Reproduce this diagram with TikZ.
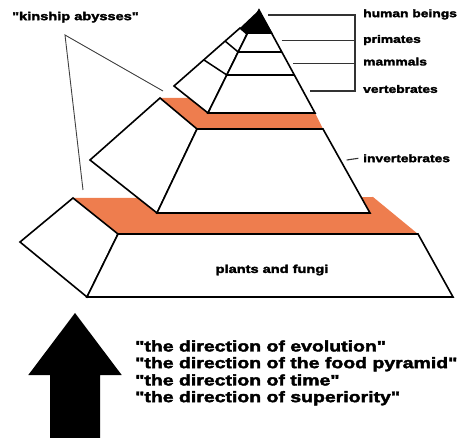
\documentclass[tikz,border=0pt]{standalone}
\usepackage{fontspec}
\newfontfamily\lblfont{Liberation Sans}[FakeStretch=1.28,BoldFeatures={FakeBold=2.6}]
\definecolor{abyss}{RGB}{238,125,78}
\begin{document}
\begin{tikzpicture}[x=1pt,y=-1pt,
  face/.style={fill=white,draw=black,line width=1.6pt,line join=miter},
  band/.style={fill=abyss},
  thinline/.style={draw=black!75,line width=0.9pt},
  bracket/.style={draw=black!80,line width=1.1pt},
  lbl/.style={font=\lblfont\bfseries\fontsize{10.8}{12}\selectfont,inner sep=0pt,anchor=mid west},
  biglbl/.style={font=\lblfont\bfseries\fontsize{11.4}{13}\selectfont,inner sep=0pt},
  dirlbl/.style={font=\lblfont\bfseries\fontsize{15.2}{17}\selectfont,inner sep=0pt,anchor=mid west}]
\useasboundingbox (0,0) rectangle (466,438);
% --- key points
% bottom tier
\coordinate (bA) at (73,198);
\coordinate (bL) at (20,242);
\coordinate (bBL) at (87,297);
\coordinate (bTL) at (118,234);
\coordinate (bTR) at (418,234);
\coordinate (bBR) at (453,297);
\coordinate (bOR) at (373,197);
% middle tier
\coordinate (mA) at (160,98);
\coordinate (mL) at (90,160);
\coordinate (mBL) at (157,213);
\coordinate (mTL) at (197,129);
\coordinate (mTR) at (323,129);
\coordinate (mBR) at (370,213);
% top pyramid
\coordinate (apex) at (259,10);
\coordinate (tS) at (240,28);
\coordinate (tL) at (174,86);
\coordinate (tBL) at (208,113);
\coordinate (tBR) at (315,113);
\coordinate (tC) at (247,34);
\coordinate (tCR) at (273,34);
% bottom orange band
\fill[band] (bA) -- (bOR) -- (bTR) -- (bTL) -- cycle;
\draw[face] (bA) -- (bL) -- (bBL) -- (bTL) -- cycle;
\draw[face] (bTL) -- (bTR) -- (bBR) -- (bBL) -- cycle;
% middle orange band
\fill[band] (mA) -- (200,98) -- (220,113) -- (tBR) -- (mTR) -- (mTL) -- cycle;
\draw[face] (mA) -- (mL) -- (mBL) -- (mTL) -- cycle;
\draw[face] (mTL) -- (mTR) -- (mBR) -- (mBL) -- cycle;
% top pyramid
\draw[face] (tS) -- (tL) -- (tBL) -- (tC) -- cycle;
\draw[face] (apex) -- (tBR) -- (tBL) -- cycle;
\fill[black] (apex) -- (tS) -- (tC) -- (tCR) -- cycle;
\draw[black,line width=1.5pt] (238.2,52) -- (281.8,52);
\draw[black,line width=1.5pt] (226.8,75) -- (294.3,75);
\draw[black,line width=1.5pt] (225,41) -- (238.2,52);
\draw[black,line width=1.5pt] (204,60) -- (226.8,75);
% kinship abysses
\node[biglbl,anchor=mid west] (kin) at (12,18) {"kinship abysses"};
\coordinate (kfork) at (65,35);
\coordinate (kend1) at (163,91);
\coordinate (kend2) at (83,190);
\draw[thinline] (kend1) -- (kfork) -- (kend2);
% right bracket and labels
\coordinate (brTop) at (355,15);
\coordinate (brBot) at (355,91);
\draw[bracket] (268,15) -- (brTop) -- (brBot) -- (310,91);
\draw[bracket] (281.7,40.7) -- (355,40.7);
\draw[bracket] (293,63.3) -- (355,63.3);
\node[lbl] (human) at (363,15) {human beings};
\node[lbl] (prim) at (363,40.7) {primates};
\node[lbl] (mamm) at (363,63.3) {mammals};
\node[lbl] (vert) at (363,90.7) {vertebrates};
\node[lbl] (invert) at (363,160) {invertebrates};
\coordinate (dashL) at (346.7,160);
\draw[bracket] (dashL) -- ([xshift=-4.7pt]invert.west);
\node[biglbl] (plants) at (272,270) {plants and fungi};
% arrow
\fill[black] (75,313) -- (121.7,375) -- (100,375) -- (100,440) -- (50,440) -- (50,375) -- (28.3,375) -- cycle;
\node[dirlbl] (d1) at (135,349.3) {"the direction of evolution"};
\node[dirlbl] (d2) at (135,366) {"the direction of the food pyramid"};
\node[dirlbl] (d3) at (135,383.3) {"the direction of time"};
\node[dirlbl] (d4) at (135,400) {"the direction of superiority"};
\end{tikzpicture}
\end{document}
